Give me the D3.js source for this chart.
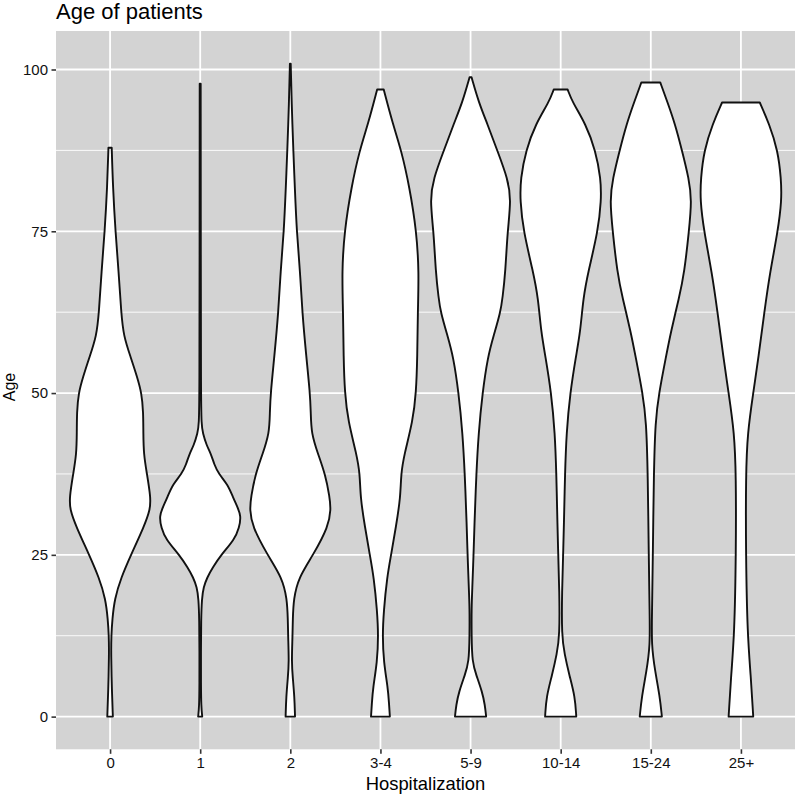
<!DOCTYPE html>
<html>
<head>
<meta charset="utf-8">
<script src="https://cdn.jsdelivr.net/npm/d3@7"></script>
<style>
  html, body { margin: 0; padding: 0; background: #ffffff; }
  svg { display: block; }
  text { font-family: "Liberation Sans", Arial, Helvetica, sans-serif; }
</style>
</head>
<body>
<svg id="chart" width="796" height="796"></svg>
<script>
// ---- data ----
const title = "Age of patients";
const xTitle = "Hospitalization";
const yTitle = "Age";
const categories = ["0", "1", "2", "3-4", "5-9", "10-14", "15-24", "25+"];
const yTicks = [0, 25, 50, 75, 100];
const yMinorTicks = [12.5, 37.5, 62.5, 87.5];

// relative violin density (1 = widest) at each age, one list per category
const violin_0 = [[0,0.068],[4,0.044],[9.7,0.024],[12.5,0.03],[15,0.054],[18.2,0.11],[21.5,0.27],[25,0.51],[29.4,0.83],[32,0.98],[33.9,0.99],[37.5,0.9],[40.5,0.82],[44,0.81],[47,0.81],[50,0.77],[52.5,0.66],[55.6,0.5],[58.8,0.33],[62.5,0.27],[68.7,0.21],[75,0.13],[81.8,0.07],[87.9,0.04]];
const violin_1 = [[0,0.05],[1.5,0.025],[5,0.018],[10,0.018],[15,0.022],[18.2,0.04],[20,0.08],[21.5,0.17],[23,0.3],[25,0.51],[27.4,0.84],[29.2,0.95],[31,1.0],[32.5,0.9],[33.9,0.8],[35.9,0.67],[37.5,0.45],[39,0.34],[40.5,0.27],[42,0.15],[43.8,0.065],[45,0.03],[50,0.018],[70,0.015],[97.8,0.012]];
const violin_2 = [[0,0.115],[3.1,0.1],[6,0.06],[8.4,0.032],[12.5,0.054],[15,0.06],[18.2,0.08],[21.5,0.2],[25,0.56],[29.4,0.93],[32,0.99],[33.9,0.96],[37.5,0.85],[40.5,0.68],[43.8,0.51],[47,0.5],[50,0.48],[55.6,0.39],[62.5,0.29],[68.7,0.24],[75,0.155],[81.8,0.11],[87.5,0.073],[94.9,0.032],[100.9,0.01]];
const violin_3_4 = [[0,0.23],[2,0.21],[4.5,0.18],[8.4,0.08],[12.5,0.05],[16.3,0.08],[21.5,0.16],[25,0.26],[29.4,0.38],[33.9,0.49],[37.5,0.5],[40.5,0.58],[45.7,0.79],[50,0.87],[55.6,0.9],[62.5,0.91],[68.7,0.94],[75,0.88],[81.8,0.71],[87.5,0.51],[91.6,0.3],[96.9,0.08]];
const violin_5_9 = [[0,0.38],[1.8,0.35],[3.8,0.285],[6.4,0.14],[8.4,0.04],[12.5,0.024],[16.9,0.024],[19.5,0.04],[25,0.073],[29.4,0.093],[37.5,0.14],[43.8,0.195],[50,0.29],[55.6,0.42],[58.8,0.56],[62.5,0.73],[64.7,0.78],[68.7,0.85],[75,0.9],[79.8,0.99],[83.1,0.91],[87.5,0.65],[91.6,0.41],[94.9,0.2],[98.8,0.024]];
const violin_10_14 = [[0,0.38],[3.1,0.35],[6.4,0.21],[9.7,0.093],[12.5,0.024],[19.5,0.032],[25,0.06],[29.4,0.078],[37.5,0.105],[43.8,0.14],[50,0.23],[55.6,0.37],[59.5,0.48],[64.7,0.55],[68.7,0.67],[75,0.91],[79.8,0.99],[83.1,0.98],[87.5,0.85],[91.6,0.61],[94.9,0.29],[96.9,0.17]];
const violin_15_24 = [[0,0.27],[3.1,0.22],[7,0.105],[11,0.015],[16.3,0.03],[25,0.05],[37.5,0.073],[45.7,0.11],[50,0.2],[55.6,0.37],[59.5,0.49],[64.7,0.69],[68.7,0.82],[75,0.93],[79.8,1.0],[83.1,0.93],[87.5,0.76],[91.6,0.59],[94.9,0.41],[98,0.23]];
const violin_25p = [[0,0.3],[6.4,0.24],[12.5,0.16],[25,0.12],[37.5,0.12],[43.8,0.16],[50,0.3],[55.6,0.43],[62.5,0.57],[68.7,0.71],[75,0.9],[79.8,0.995],[83.1,0.98],[87.5,0.9],[91.6,0.69],[94.9,0.46]];

const violins = [violin_0, violin_1, violin_2, violin_3_4, violin_5_9, violin_10_14, violin_15_24, violin_25p];

// ---- layout ----
const panel = { left: 56, right: 795, top: 31, bottom: 749.3 };
const svg = d3.select("#chart");

const x = d3.scalePoint().domain(categories).range([panel.left, panel.right]).padding(0.6);
const y = d3.scaleLinear().domain([-5.05, 105.95]).range([panel.bottom, panel.top]);
const w = d3.scaleLinear().domain([0, 1]).range([0, x.step() * 0.455]);

// panel background
svg.append("rect")
  .attr("x", panel.left).attr("y", panel.top)
  .attr("width", panel.right - panel.left).attr("height", panel.bottom - panel.top)
  .attr("fill", "#d3d3d3");

const grid = svg.append("g");
grid.selectAll(".ymin").data(yMinorTicks).join("line")
  .attr("x1", panel.left).attr("x2", panel.right)
  .attr("y1", d => y(d)).attr("y2", d => y(d))
  .attr("stroke", "#ffffff").attr("stroke-width", 0.9);
grid.selectAll(".ymaj").data(yTicks).join("line")
  .attr("x1", panel.left).attr("x2", panel.right)
  .attr("y1", d => y(d)).attr("y2", d => y(d))
  .attr("stroke", "#ffffff").attr("stroke-width", 1.8);
grid.selectAll(".xmaj").data(categories).join("line")
  .attr("x1", d => x(d)).attr("x2", d => x(d))
  .attr("y1", panel.top).attr("y2", panel.bottom)
  .attr("stroke", "#ffffff").attr("stroke-width", 1.8);

// violins
const area = d3.area()
  .curve(d3.curveBasis)
  .y(d => y(d[0]));

const vg = svg.append("g");
categories.forEach((c, i) => {
  const cx = x(c);
  vg.append("path")
    .datum(violins[i])
    .attr("d", area.x0(d => cx - w(d[1])).x1(d => cx + w(d[1])))
    .attr("fill", "#ffffff")
    .attr("stroke", "#111111")
    .attr("stroke-width", 1.9)
    .attr("stroke-linejoin", "round");
});

// axes
const yAxis = d3.axisLeft(y).tickValues(yTicks).tickSize(4.5).tickPadding(3.5);
const gy = svg.append("g").attr("transform", `translate(${panel.left},0)`).call(yAxis);
gy.select(".domain").remove();
gy.selectAll(".tick line").attr("stroke", "#333333").attr("stroke-width", 1.6);
gy.selectAll(".tick text").attr("fill", "#111111").attr("font-size", 15)
  .style("font-family", "'Liberation Sans', Arial, sans-serif");

const xAxis = d3.axisBottom(x).tickSize(4.5).tickPadding(4);
const gx = svg.append("g").attr("transform", `translate(0,${panel.bottom})`).call(xAxis);
gx.select(".domain").remove();
gx.selectAll(".tick line").attr("stroke", "#333333").attr("stroke-width", 1.6);
gx.selectAll(".tick text").attr("fill", "#111111").attr("font-size", 15)
  .style("font-family", "'Liberation Sans', Arial, sans-serif");

// titles
svg.append("text")
  .attr("x", panel.left).attr("y", 19)
  .attr("font-size", 22).attr("fill", "#000")
  .text(title);

svg.append("text")
  .attr("x", (panel.left + panel.right) / 2).attr("y", 790)
  .attr("text-anchor", "middle")
  .attr("font-size", 18.4).attr("fill", "#000")
  .text(xTitle);

svg.append("text")
  .attr("transform", `translate(14.5,387) rotate(-90)`)
  .attr("text-anchor", "middle")
  .attr("font-size", 16).attr("fill", "#000")
  .text(yTitle);
</script>
</body>
</html>
